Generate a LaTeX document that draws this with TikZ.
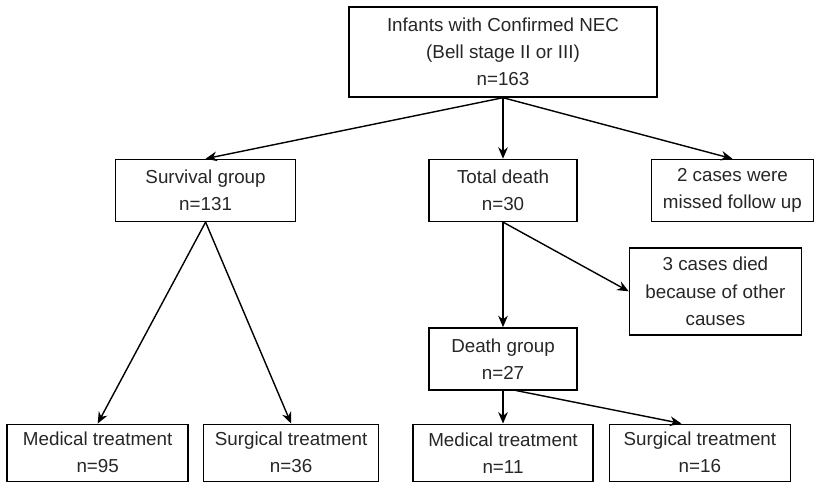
\documentclass[tikz,border=0pt]{standalone}
\usepackage{fontspec}
\setmainfont{Liberation Sans}
\usetikzlibrary{arrows.meta, positioning}

\begin{document}
\begin{tikzpicture}[
  node distance=1.24cm,
  box/.style={
    rectangle, draw=black, line width=0.8pt,
    minimum height=1.24cm, inner sep=0pt,
    align=center, text=black!85,
    font=\fontsize{10.7}{15.4}\selectfont
  },
  arrow/.style={-{Stealth[length=6.5pt, width=5.5pt]}, line width=0.8pt}
]

\useasboundingbox (0,0) rectangle (16.28,-9.72);

% Cohort
\node[box, minimum width=6.16cm, minimum height=1.8cm] (nec) at (10.06,-1.04)
  {Infants with Confirmed NEC\\(Bell stage II or III)\\n=163};

% Second row
\node[box, minimum width=2.96cm, below=1.22cm of nec] (total) {Total death\\n=30};
\node[box, minimum width=3.6cm, left=2.64cm of total] (surv) {Survival group\\n=131};
\node[box, minimum width=3.24cm, right=1.46cm of total] (missed) {2 cases were\\missed follow up};

% Exclusions and death group
\node[box, minimum width=3.44cm, minimum height=1.74cm, below right=0.5cm and 1.02cm of total] (other)
  {3 cases died\\because of other\\causes};
\node[box, minimum width=2.96cm, below=2.1cm of total] (death) {Death group\\n=27};

% Treatment
\node[box, minimum width=3.6cm, minimum height=1.14cm, below=0.66cm of death] (medR) {Medical treatment\\n=11};
\node[box, minimum width=3.62cm, minimum height=1.14cm, right=0.3cm of medR] (surgR) {Surgical treatment\\n=16};
\node[box, minimum width=3.5cm, minimum height=1.14cm, left=0.66cm of medR] (surgL) {Surgical treatment\\n=36};
\node[box, minimum width=3.62cm, minimum height=1.14cm, left=0.28cm of surgL] (medL) {Medical treatment\\n=95};

% Arrows
\draw[arrow] (nec.south) -- (surv.north);
\draw[arrow] (nec.south) -- (total.north);
\draw[arrow] (nec.south) -- (missed.north);
\draw[arrow] (total.south) -- (other.west);
\draw[arrow] (total.south) -- (death.north);
\draw[arrow] (surv.south) -- (medL.north);
\draw[arrow] (surv.south) -- (surgL.north);
\draw[arrow] (death.south) -- (medR.north);
\draw[arrow] ([xshift=0.26cm]death.south) -- ([xshift=-0.37cm]surgR.north);

\end{tikzpicture}
\end{document}
